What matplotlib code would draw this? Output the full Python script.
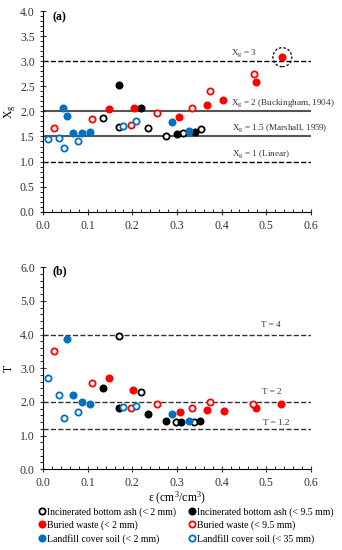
import numpy as np
import matplotlib.pyplot as plt
from matplotlib.lines import Line2D
from matplotlib.patches import Ellipse
from matplotlib.ticker import MultipleLocator

plt.rcParams['font.family'] = ['Liberation Serif', 'DejaVu Serif']
plt.rcParams['mathtext.fontset'] = 'custom'
plt.rcParams['mathtext.rm'] = 'Liberation Serif'
plt.rcParams['mathtext.it'] = 'Liberation Serif'

# ---- data, panel (a): Xg vs porosity ----
ash_open_a_x = [0.134, 0.171, 0.235, 0.276, 0.313, 0.353]
ash_open_a_y = [1.87, 1.68, 1.67, 1.51, 1.57, 1.64]
ash_fill_a_x = [0.169, 0.220, 0.301, 0.340]
ash_fill_a_y = [2.53, 2.07, 1.54, 1.59]
bw_fill_a_x = [0.148, 0.203, 0.305, 0.367, 0.404, 0.476, 0.536]
bw_fill_a_y = [2.05, 2.07, 1.89, 2.13, 2.22, 2.59, 3.08]
bw_open_a_x = [0.024, 0.110, 0.196, 0.255, 0.334, 0.375, 0.472]
bw_open_a_y = [1.67, 1.84, 1.73, 1.96, 2.07, 2.40, 2.74]
ls_fill_a_x = [0.045, 0.054, 0.066, 0.088, 0.106, 0.289, 0.326]
ls_fill_a_y = [2.07, 1.91, 1.57, 1.57, 1.58, 1.79, 1.61]
ls_open_a_x = [0.012, 0.036, 0.047, 0.079, 0.179, 0.209]
ls_open_a_y = [1.44, 1.46, 1.28, 1.41, 1.71, 1.81]

# ---- data, panel (b): T vs porosity ----
ash_open_b_x = [0.169, 0.219, 0.298, 0.339]
ash_open_b_y = [3.96, 2.28, 1.41, 1.41]
ash_fill_b_x = [0.134, 0.171, 0.235, 0.275, 0.308, 0.352]
ash_fill_b_y = [2.41, 1.82, 1.63, 1.43, 1.41, 1.43]
bw_fill_b_x = [0.148, 0.202, 0.307, 0.368, 0.405, 0.477, 0.534]
bw_fill_b_y = [2.72, 2.36, 1.71, 1.77, 1.74, 1.81, 1.94]
bw_open_b_x = [0.025, 0.110, 0.196, 0.255, 0.334, 0.375, 0.471]
bw_open_b_y = [3.52, 2.55, 1.81, 1.94, 1.81, 2.01, 1.93]
ls_fill_b_x = [0.054, 0.066, 0.088, 0.106, 0.289, 0.327]
ls_fill_b_y = [3.86, 2.19, 2.01, 1.94, 1.64, 1.43]
ls_open_b_x = [0.012, 0.036, 0.047, 0.079, 0.179, 0.208]
ls_open_b_y = [2.72, 2.20, 1.53, 1.69, 1.85, 1.89]

RED = '#ff0000'
BLUE = '#0070c0'
ms = 20
ew = 1.3

fig = plt.figure(figsize=(3.42, 5.5), dpi=100)
ax1 = fig.add_axes([0.126, 0.615, 0.783, 0.365])
ax2 = fig.add_axes([0.126, 0.147, 0.783, 0.367])


def pts(ax, x, y, color, filled):
    if filled:
        ax.scatter(x, y, s=ms, c=color, edgecolors=color, linewidths=ew, zorder=3)
    else:
        ax.scatter(x, y, s=ms, facecolors='white', edgecolors=color, linewidths=ew, zorder=3)


def style(ax, ymax, ymaj, ymin):
    ax.set_xlim(0, 0.6)
    ax.set_ylim(0, ymax)
    ax.spines['top'].set_visible(False)
    ax.spines['right'].set_visible(False)
    ax.xaxis.set_major_locator(MultipleLocator(0.1))
    ax.xaxis.set_minor_locator(MultipleLocator(0.02))
    ax.yaxis.set_major_locator(MultipleLocator(ymaj))
    ax.yaxis.set_minor_locator(MultipleLocator(ymin))
    ax.tick_params(which='major', direction='inout', length=5, width=0.8, labelsize=8.5, colors='#333333')
    ax.tick_params(axis='x', which='minor', direction='in', length=2.5, width=0.6)
    ax.tick_params(axis='y', which='minor', direction='out', length=2.5, width=0.6)
    ax.xaxis.set_major_formatter(plt.FuncFormatter(lambda v, p: '%.1f' % v))
    ax.yaxis.set_major_formatter(plt.FuncFormatter(lambda v, p: '%.1f' % v))


# panel (a)
ax1.plot([0, 0.6], [3, 3], ls='--', color='black', lw=1.0, zorder=1)
ax1.plot([0, 0.6], [2, 2], ls='-', color='#555555', lw=1.5, zorder=1)
ax1.plot([0, 0.6], [1.5, 1.5], ls='-', color='#555555', lw=1.5, zorder=1)
ax1.plot([0, 0.6], [1, 1], ls='--', color='black', lw=1.0, zorder=1)
pts(ax1, ash_open_a_x, ash_open_a_y, 'black', False)
pts(ax1, ash_fill_a_x, ash_fill_a_y, 'black', True)
pts(ax1, bw_fill_a_x, bw_fill_a_y, RED, True)
pts(ax1, bw_open_a_x, bw_open_a_y, RED, False)
pts(ax1, ls_fill_a_x, ls_fill_a_y, BLUE, True)
pts(ax1, ls_open_a_x, ls_open_a_y, BLUE, False)
ax1.add_patch(Ellipse((bw_fill_a_x[-1], bw_fill_a_y[-1]), 0.0425, 0.378,
                      fill=False, ls=(0, (2, 1.5)), lw=0.9, color='black', zorder=4))
lab = dict(fontsize=6.6, color='#333333', va='center')
ax1.text(0.421, 3.16, r'X$_\mathrm{g}$ = 3', **lab)
ax1.text(0.421, 2.17, r'X$_\mathrm{g}$ = 2 (Buckingham, 1904)', **lab)
ax1.text(0.424, 1.66, r'X$_\mathrm{g}$ = 1.5 (Marshall, 1959)', **lab)
ax1.text(0.424, 1.14, r'X$_\mathrm{g}$ = 1 (Linear)', **lab)
ax1.text(0.02, 3.88, '(a)', fontsize=8.5, fontweight='bold', va='center')
style(ax1, 4.0, 0.5, 0.1)
ax1.set_ylabel(r'X$_\mathrm{g}$', fontsize=8.5, labelpad=1)

# panel (b)
for lvl in [4, 2, 1.2]:
    ax2.plot([0, 0.6], [lvl, lvl], ls='--', color='#333333', lw=1.0, zorder=1)
pts(ax2, ash_open_b_x, ash_open_b_y, 'black', False)
pts(ax2, ash_fill_b_x, ash_fill_b_y, 'black', True)
pts(ax2, bw_fill_b_x, bw_fill_b_y, RED, True)
pts(ax2, bw_open_b_x, bw_open_b_y, RED, False)
pts(ax2, ls_fill_b_x, ls_fill_b_y, BLUE, True)
pts(ax2, ls_open_b_x, ls_open_b_y, BLUE, False)
ax2.text(0.488, 4.28, 'T = 4', **lab)
ax2.text(0.490, 2.30, 'T = 2', **lab)
ax2.text(0.492, 1.36, 'T = 1.2', **lab)
ax2.text(0.02, 5.88, '(b)', fontsize=8.5, fontweight='bold', va='center')
style(ax2, 6.0, 1.0, 0.2)
ax2.set_ylabel('T', fontsize=8.5, labelpad=4)
ax2.set_xlabel(r'ε (cm$^3$/cm$^3$)', fontsize=8.5, labelpad=0.5)

# legend
names = ['Incinerated bottom ash (< 2 mm)', 'Buried waste (< 2 mm)', 'Landfill cover soil (< 2 mm)',
         'Incinerated bottom ash (< 9.5 mm)', 'Buried waste (< 9.5 mm)', 'Landfill cover soil (< 35 mm)']
cols = ['black', RED, BLUE, 'black', RED, BLUE]
fills = [False, True, True, True, False, False]
handles = [Line2D([], [], ls='none', marker='o', ms=4.5, mew=ew, mec=c,
                  mfc=c if f else 'white') for c, f in zip(cols, fills)]
fig.legend(handles, names, ncol=2, loc='upper center', bbox_to_anchor=(0.545, 0.08),
           frameon=False, fontsize=7.0, handlelength=0.6, handletextpad=0.2,
           columnspacing=1.3, labelspacing=0.4, borderaxespad=0, borderpad=0.1)

fig.savefig('out.png', dpi=100)
